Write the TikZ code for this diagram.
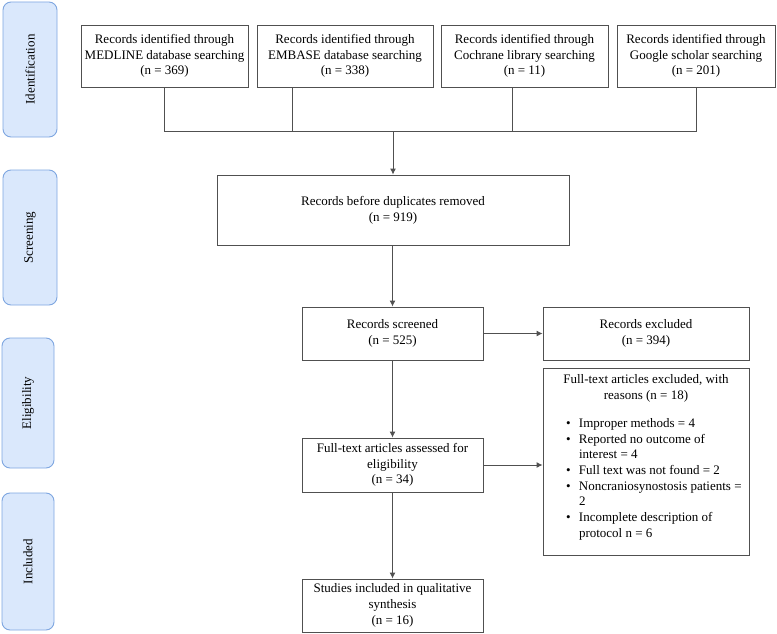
\documentclass[tikz,border=0pt]{standalone}
\usepackage{fontspec}
\setmainfont{Liberation Serif}
\usetikzlibrary{arrows.meta}
\definecolor{linegray}{HTML}{505050}
\definecolor{lanefill}{HTML}{DAE8FC}
\definecolor{lanedraw}{HTML}{7EA6E0}
\tikzset{
  box/.style={draw=linegray, line width=0.9pt, fill=white, inner sep=0pt, align=center,
    font=\fontsize{13}{15.7}\selectfont},
  lane/.style={draw=lanedraw, line width=0.9pt, fill=lanefill, rounded corners=8pt, inner sep=0pt,
    rotate=90, font=\fontsize{13}{15.7}\selectfont},
  link/.style={draw=linegray, line width=0.9pt},
  flow/.style={-{Latex[length=6pt,width=6pt]}, draw=linegray, line width=0.9pt}
}
\begin{document}
\begin{tikzpicture}[x=1pt, y=-1pt]
        \useasboundingbox (0,0) rectangle (777,634);
        % phases
        \node[lane, minimum width=135, minimum height=54] (ident) at (30,69.5) {Identification};
        \node[lane, minimum width=135, minimum height=54] (screen) at (30,237.5) {Screening};
        \node[lane, minimum width=130, minimum height=52] (elig) at (28,403) {Eligibility};
        \node[lane, minimum width=137, minimum height=52] (incl) at (28,561.5) {Included};
        % sources
        \node[box, minimum width=167, minimum height=62] (med) at (164.5,56) {Records identified through\\MEDLINE database searching\\(n = 369)};
        \node[box, minimum width=176, minimum height=62] (emb) at (345,56) {Records identified through\\EMBASE database searching\\(n = 338)};
        \node[box, minimum width=167, minimum height=62] (coch) at (524.5,56) {Records identified through\\Cochrane library searching\\(n = 11)};
        \node[box, minimum width=158, minimum height=62] (goog) at (696,56) {Records identified through\\Google scholar searching\\(n = 201)};
        % flow
        \node[box, minimum width=352, minimum height=70] (dup) at (393,210) {Records before duplicates removed\\(n = 919)};
        \node[box, minimum width=181, minimum height=53] (scr) at (392.5,333.5) {Records screened\\(n = 525)};
        \node[box, minimum width=206, minimum height=53] (excl) at (646,333.5) {Records excluded\\(n = 394)};
        \node[box, minimum width=181, minimum height=54] (full) at (392.5,465) {Full-text articles assessed for\\eligibility\\(n = 34)};
        \node[box, minimum width=206, minimum height=187] (ftex) at (646,461.5) {Full-text articles excluded, with\\reasons (n = 18)\\[13pt]
          \begin{tabular}{@{\hspace{23pt}}p{13pt}@{}p{170pt}@{}}
            \textbullet & Improper methods = 4\\
            \textbullet & Reported no outcome of\\
                        & interest = 4\\
            \textbullet & Full text was not found = 2\\
            \textbullet & Noncraniosynostosis patients =\\
                        & 2\\
            \textbullet & Incomplete description of\\
                        & protocol n = 6
          \end{tabular}\\
          \rule{0pt}{5pt}};
        \node[box, minimum width=181, minimum height=53] (stud) at (392.5,605.5) {Studies included in qualitative\\synthesis\\(n = 16)};
        % connectors
        \coordinate (jr) at (696,131);
        \coordinate (je) at (292,131);
        \coordinate (jc) at (512,131);
        \draw[link] (med.south) |- (jr) -- (goog.south);
        \draw[link] (je) -- (je |- emb.south);
        \draw[link] (jc) -- (jc |- coch.south);
        \draw[flow] (dup.north |- jr) -- (dup.north);
        \draw[flow] (dup.south -| scr.north) -- (scr.north);
        \draw[flow] (scr.east) -- (excl.west);
        \draw[flow] (scr.south) -- (full.north);
        \draw[flow] (full.east) -- (full.east -| ftex.west);
        \draw[flow] (full.south) -- (stud.north);
\end{tikzpicture}
\end{document}
